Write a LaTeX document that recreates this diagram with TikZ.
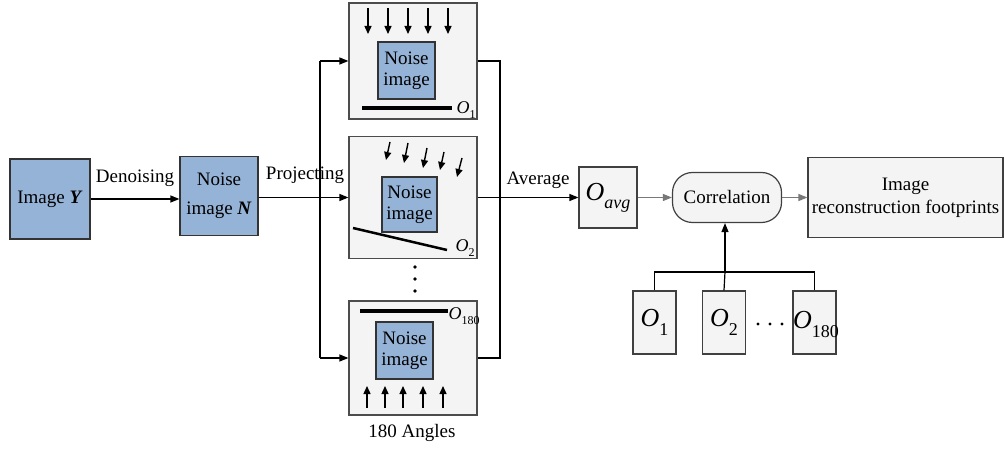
\documentclass[tikz,border=0pt]{standalone}
\usepackage{fontspec}
\setmainfont{Liberation Serif}
\usetikzlibrary{arrows.meta}

\definecolor{imgblue}{RGB}{149,179,215}
\definecolor{lightbox}{RGB}{244,244,244}
\definecolor{linegray}{RGB}{120,120,120}

% O with a subscript: size, subscript size, subscript
\newcommand{\Olab}[3]{{\fontsize{#1}{#1}\selectfont\textit{O}\raisebox{-.32em}{\fontsize{#2}{#2}\selectfont #3}}}

\tikzset{
  txt/.style={font=\fontsize{19}{21}\selectfont, inner sep=1pt},
  imgbox/.style={draw=black!80, fill=imgblue, align=center, txt},
  projbox/.style={draw=black!70, fill=lightbox, minimum width=128},
  graybox/.style={draw=black!75, fill=lightbox, align=center, txt},
  ray/.style={-{Triangle[length=8pt,width=7pt]}, line width=1.4pt},
  link/.style={-{Triangle[length=9pt,width=7pt]}},
}

\begin{document}
\begin{tikzpicture}[x=1pt,y=1pt,yscale=-1,line width=1.2pt]
\useasboundingbox (0,0) rectangle (1005,449);

% input images
\node (imgY) [imgbox, minimum width=80, minimum height=80] at (50,199) {Image \textbf{\textit{Y}}};
\node (noiseN) [imgbox, minimum width=78, minimum height=79, font=\fontsize{19}{29}\selectfont] at (219,196) {Noise\\image \textbf{\textit{N}}};

% projection boxes
\node (projA) [projbox, minimum height=116] at (413,61) {};
\node (projB) [projbox, minimum height=122] at (413,197.5) {};
\node (projC) [projbox, minimum height=114] at (413,358) {};

\node (noiseA) [imgbox, minimum width=57, minimum height=57, font=\fontsize{19}{21}\selectfont] at (406.5,70.5) {Noise\\image};
\node (noiseB) [imgbox, minimum width=55, minimum height=55, font=\fontsize{19}{21}\selectfont] at (409.5,204.5) {Noise\\image};
\node (noiseC) [imgbox, minimum width=57, minimum height=57, font=\fontsize{19}{21}\selectfont] at (404.5,350.5) {Noise\\image};

% rays
\foreach \x in {368,388,408,428,448}
  \draw [ray] (\x,8) -- (\x,34);
\draw [ray] (390,142) -- (386,160);
\draw [ray] (408,143) -- (404,163);
\draw [ray] (427,148) -- (423,168);
\draw [ray] (444,152) -- (440,170);
\draw [ray] (462,158) -- (457,177);
\foreach \x in {367,385,403,423,443}
  \draw [ray] (\x,408) -- (\x,386);

% detector bars
\draw [line width=3.5pt] (362,108) -- (452,108);
\draw [line width=2.5pt] (353,228) -- (447,250);
\draw [line width=3.5pt] (360,311) -- (448,311);
\node (labA) [anchor=west, inner sep=0pt] at (456,110) {\Olab{18}{12}{1}};
\node (labB) [anchor=west, inner sep=0pt] at (455,248) {\Olab{18}{12}{2}};
\node (labC) [anchor=west, inner sep=0pt] at (448,316) {\Olab{18}{12}{180}};

% dots
\foreach \y in {267,279,291}
  \fill (415,\y) circle (1.8);
\node (angles) [txt] at (412,433) {180 Angles};

% right part
\node (oavg) [graybox, minimum width=58, minimum height=61] at (608,197.5) {\Olab{26}{18}{\textit{avg}}};
\node (corr) [graybox, minimum width=109, minimum height=50, rounded corners=20] at (727,197.5) {Correlation};
\node (foot) [graybox, minimum width=195, minimum height=80, font=\fontsize{19}{23}\selectfont] at (905.5,197.5) {Image\\reconstruction footprints};

\node (oA) [graybox, minimum width=43, minimum height=63] at (654.5,322.5) {\Olab{26}{18}{1}};
\node (oB) [graybox, minimum width=43, minimum height=63] at (724,322.5) {\Olab{26}{18}{2}};
\node (oC) [graybox, minimum width=43, minimum height=63, text width=43, align=left, inner sep=0pt] at (814.5,322.5) {\hspace{1pt}\Olab{26}{18}{180}};
\foreach \x in {758,770,782}
  \fill (\x,324) circle (1.6);

% connectors
\coordinate (split) at (320,197.5);
\coordinate (merge) at (500,197.5);
\coordinate (join) at (725,272);

\draw [link] (imgY.east) -- (noiseN.west |- imgY.east)
  node [midway, above=11pt, txt] {Denoising};
\draw [link] (noiseN.east |- projB.west) -- (projB.west);
\node (projecting) [txt] at (305,175) {Projecting};
\draw [link] (split |- projA.west) -- (projA.west);
\draw [link] (split |- projC.west) -- (projC.west);
\draw (split |- projA.west) -- (split |- projC.west);

\draw (projA.east) -| (merge |- projC.east) -- (projC.east);
\draw [link] (projB.east) -- (oavg.west)
  node [pos=0.6, above=7pt, txt] {Average};
\draw [link, draw=linegray] (oavg.east) -- (corr.west);
\draw [link, draw=linegray] (corr.east) -- (foot.west);

\draw (oA.north) |- (join) -| (oC.north);
\draw (oB.north) -- (join);
\draw [link] (join) -- (join |- corr.south);
\end{tikzpicture}
\end{document}
